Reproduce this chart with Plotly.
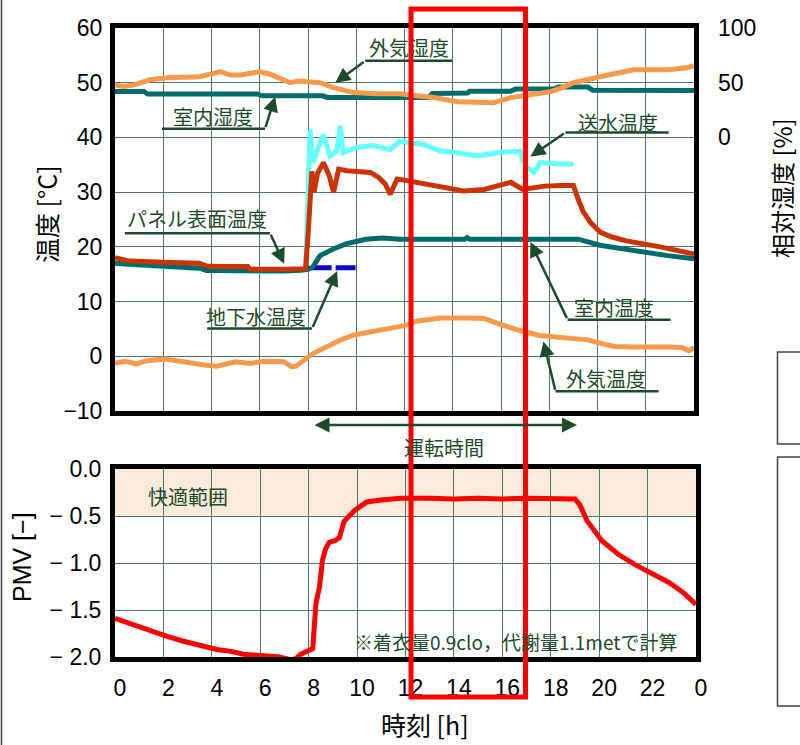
import plotly.graph_objects as go

# ---------------- data ----------------
# outdoor temperature 外気温度 [°C]
OT_h = [0, 0.4, 0.9, 1.3, 2.1, 2.75, 3.7, 4.2, 5.0, 5.6, 6.2, 7.0, 7.3, 7.5, 7.8, 8.2, 8.8, 9.3, 9.9, 10.7,
        11.5, 12.0, 12.5, 13.5, 14.5, 15.3, 16.0, 16.7, 17.6, 18.6, 19.6, 20.2, 20.7, 21.5, 22.3, 23.0, 23.5, 23.8, 24.0]
OT = [-1.3, -0.9, -1.4, -0.8, -0.5, -1.0, -1.6, -1.8, -1.0, -1.3, -0.9, -1.0, -1.9, -1.8, -0.7, 0.5, 1.8, 2.9, 3.9, 4.6,
      5.1, 5.6, 6.4, 7.0, 7.0, 6.9, 5.8, 4.8, 3.8, 3.4, 3.0, 2.3, 1.8, 1.7, 1.8, 1.7, 1.6, 1.0, 1.6]

# indoor temperature 室内温度 [°C]
IT_h = [0, 0.5, 1.0, 2.0, 3.5, 3.8, 5.0, 6.3, 7.0, 7.7, 8.0, 8.2, 8.5, 9.05, 9.6, 10.4, 11.1, 11.8, 12.1, 12.2,
        14.5, 14.6, 14.7, 16.6, 16.8, 17.0, 19.2, 20.1, 21.5, 22.9, 24.0]
IT = [17.0, 16.9, 16.6, 16.5, 16.1, 15.7, 15.6, 15.5, 15.6, 15.7, 15.9, 16.3, 18.4, 19.6, 20.6, 21.4, 21.6, 21.4, 21.5, 21.4,
      21.4, 21.7, 21.4, 21.4, 21.6, 21.4, 21.4, 20.3, 19.3, 18.4, 17.8]

# panel surface temperature パネル表面温度 [°C]
PT_h = [0, 0.3, 0.6, 2.0, 3.5, 3.8, 4.2, 5.5, 5.6, 7.0, 7.9, 8.0, 8.08, 8.16, 8.25, 8.4, 8.64, 8.89, 9.06, 9.27,
        9.6, 10.0, 10.58, 10.93, 11.2, 11.41, 11.69, 12.1, 12.8, 13.5, 14.45, 15.3, 16.4, 16.9, 17.8, 18.5, 19.0,
        19.2, 19.4, 19.7, 20.1, 20.6, 21.2, 22.6, 24.0]
PT = [18.0, 17.8, 17.4, 17.2, 17.0, 16.5, 16.4, 16.4, 15.9, 15.9, 16.0, 22.0, 30.5, 33.8, 30.0, 33.5, 35.4, 32.9, 30.0, 34.2,
      33.9, 33.8, 33.6, 32.7, 31.5, 29.6, 32.4, 32.1, 31.5, 30.9, 30.2, 30.5, 31.8, 30.5, 31.1, 31.2, 31.2,
      28.7, 26.5, 24.5, 22.7, 21.8, 21.1, 20.0, 18.7]

# supply water temperature 送水温度 [°C]
SW_h = [0, 1.0, 3.5, 3.8, 6.3, 7.9, 7.97, 8.09, 8.2, 8.4, 8.63, 8.92, 9.2, 9.34, 9.46, 10.04, 10.7, 11.41, 11.8,
        12.78, 13.49, 14.19, 15.02, 15.85, 16.8, 16.93, 17.1, 17.36, 17.63, 18.3, 19.0]
SW = [17.0, 16.6, 16.1, 15.7, 15.5, 15.9, 25.6, 41.5, 35.4, 38.0, 40.5, 36.6, 37.6, 42.1, 37.2, 38.2, 38.5, 37.8, 39.3,
      38.7, 37.5, 37.2, 36.6, 37.2, 37.5, 35.4, 34.5, 33.6, 35.4, 35.2, 35.1]

# ground water temperature 地下水温度 [°C]
GW_h = [8.15, 10.0]
GW = [16.2, 16.2]

# outdoor relative humidity 外気湿度 [%]
OH_h = [0, 0.35, 0.8, 1.45, 2.15, 3.0, 3.5, 4.35, 4.8, 5.2, 5.6, 6.0, 6.4, 6.7, 7.26, 7.6, 7.95, 8.5, 9.05, 9.9,
        10.8, 11.8, 12.5, 13.2, 14.2, 15.0, 15.7, 16.4, 17.1, 18.05, 18.6, 19.0, 20.1, 21.5, 22.9, 23.7, 24.0]
OH = [48, 46.5, 48, 52.7, 54.5, 55, 55.5, 60, 57, 57, 58, 60, 58, 55.5, 50, 51.5, 51, 50, 45.5, 41,
      40, 40, 38, 36.4, 32.7, 32, 31.8, 36.4, 39, 41.8, 46, 50, 55.5, 61.8, 61.8, 63.6, 65.5]

# indoor relative humidity 室内湿度 [%]
IH_h = [0, 1.2, 1.35, 5.9, 6.1, 8.6, 8.8, 13.0, 13.15, 14.6, 14.7, 16.4, 16.6, 18.2, 18.4, 19.6, 19.8, 23.0, 23.2, 23.5, 24.0]
IH = [42, 42, 39.7, 39.7, 38, 38, 36.5, 36.5, 40.2, 40.6, 42.1, 42.1, 44.3, 44.5, 46.1, 46.1, 43.0, 43.0, 42.2, 43.0, 42.8]

# PMV [-]
PMV_h = [0, 0.75, 1.5, 2.15, 2.8, 3.5, 4.2, 4.8, 5.3, 6.3, 6.8, 7.26, 7.45, 7.68, 8.0, 8.17, 8.3, 8.45, 8.57, 8.7,
         8.85, 9.1, 9.27, 9.46, 9.9, 10.4, 11.0, 11.8, 13, 14, 15, 16, 17, 18, 19.0, 19.2, 19.4, 19.5, 20.1, 20.8,
         21.5, 22.2, 22.9, 23.5, 24.0]
PMV = [-1.59, -1.66, -1.72, -1.78, -1.83, -1.87, -1.92, -1.94, -1.97, -1.99, -2.0, -2.03, -2.02, -1.97, -1.93, -1.91,
       -1.43, -1.25, -0.97, -0.85, -0.78, -0.76, -0.73, -0.56, -0.44, -0.35, -0.33, -0.31, -0.31, -0.32, -0.31, -0.32,
       -0.31, -0.32, -0.32, -0.38, -0.51, -0.55, -0.76, -0.91, -1.02, -1.11, -1.21, -1.32, -1.44]

# axes ticks
HOUR_TICKS = list(range(0, 25, 2))
HOUR_LABELS = ["0", "2", "4", "6", "8", "10", "12", "14", "16", "18", "20", "22", "0"]
TEMP_TICKS = [-10, 0, 10, 20, 30, 40, 50, 60]
TEMP_LABELS = ["\u221210", "0", "10", "20", "30", "40", "50", "60"]
RH_TICKS = [0, 50, 100]
RH_LABELS = ["0", "50", "100"]
PMV_TICKS = [-2.0, -1.5, -1.0, -0.5, 0.0]
PMV_LABELS = ["\u2212 2.0", "\u2212 1.5", "\u2212 1.0", "\u2212 0.5", "0.0"]
COMFORT = [-0.5, 0.0]

# ---------------- styles ----------------
W, H = 800, 745
ORANGE = "#F79A4B"
TEAL = "#006B6B"
PANEL = "#CC3300"
CYAN = "#66FFFF"
BLUE = "#0A0AC8"
RED = "#FF0000"
GREEN = "#1D4B2C"
GRID = "#4E7A60"
NUMFONT = "Liberation Sans, Arial, Noto Sans CJK JP"
JPFONT = "Noto Sans CJK JP, Liberation Sans"


def px(x):
    return x / W


def py(y):
    return 1 - y / H


fig = go.Figure()
lw = 5
fig.add_trace(go.Scatter(x=SW_h, y=SW, mode="lines", line=dict(color=CYAN, width=lw), xaxis="x", yaxis="y"))
fig.add_trace(go.Scatter(x=GW_h, y=GW, mode="lines", line=dict(color=BLUE, width=lw, dash="20px,4px"), xaxis="x", yaxis="y"))
fig.add_trace(go.Scatter(x=IT_h, y=IT, mode="lines", line=dict(color=TEAL, width=lw), xaxis="x", yaxis="y"))
fig.add_trace(go.Scatter(x=PT_h, y=PT, mode="lines", line=dict(color=PANEL, width=lw), xaxis="x", yaxis="y"))
fig.add_trace(go.Scatter(x=OT_h, y=OT, mode="lines", line=dict(color=ORANGE, width=lw), xaxis="x", yaxis="y"))
fig.add_trace(go.Scatter(x=IH_h, y=IH, mode="lines", line=dict(color=TEAL, width=lw), xaxis="x", yaxis="y3"))
fig.add_trace(go.Scatter(x=OH_h, y=OH, mode="lines", line=dict(color=ORANGE, width=lw), xaxis="x", yaxis="y3"))
fig.add_trace(go.Scatter(x=PMV_h, y=PMV, mode="lines", line=dict(color=RED, width=lw), xaxis="x2", yaxis="y2"))

XDOM = [px(115), px(694)]
common_axis = dict(showline=True, linecolor="black", linewidth=5, mirror=True, zeroline=False, automargin=False,
                   showgrid=True, gridcolor=GRID, gridwidth=1.3, ticks="")
TICKFONT = dict(family=NUMFONT, size=23, color="black")

fig.update_layout(
    width=W, height=H, margin=dict(l=0, r=0, t=0, b=0, autoexpand=False),
    paper_bgcolor="white", plot_bgcolor="white", showlegend=False,
    xaxis=dict(domain=XDOM, range=[0, 24], tickvals=HOUR_TICKS, showticklabels=False, anchor="y", **common_axis),
    yaxis=dict(domain=[py(411), py(28)], range=[-10, 60], tickvals=TEMP_TICKS, ticktext=TEMP_LABELS,
               tickfont=TICKFONT, ticklabelstandoff=3, anchor="x", **common_axis),
    yaxis3=dict(overlaying="y", side="right", anchor="x", range=[-250, 100], tickvals=RH_TICKS, ticktext=RH_LABELS,
                showgrid=False, zeroline=False, showline=False, ticks="", automargin=False,
                tickfont=TICKFONT, ticklabelstandoff=23),
    xaxis2=dict(domain=[px(115), px(696)], range=[0, 24], tickvals=HOUR_TICKS, ticktext=HOUR_LABELS,
                tickfont=TICKFONT, ticklabelstandoff=6, ticklabelshift=5,
                anchor="y2", **common_axis),
    yaxis2=dict(domain=[py(657), py(469)], range=[-2, 0], tickvals=PMV_TICKS, ticktext=PMV_LABELS,
                tickfont=TICKFONT, ticklabelstandoff=4, anchor="x2", **common_axis),
)

shapes = []
# comfort range band
shapes.append(dict(type="rect", xref="x2 domain", yref="y2", x0=0, x1=1, y0=COMFORT[0], y1=COMFORT[1],
                   fillcolor="#FCEADC", line=dict(width=0), layer="below"))

annotations = []
LABELFONT = dict(family=JPFONT, size=20, color=GREEN)


def callout(text, tx, ty, ux0, ux1, uy, hx, hy, tail_at_left=True):
    annotations.append(dict(x=tx, y=ty, xref="x", yref="y", text=text, showarrow=False, font=LABELFONT,
                            xanchor="center", yanchor="middle"))
    shapes.append(dict(type="line", xref="x", yref="y", x0=ux0, x1=ux1, y0=uy, y1=uy,
                       line=dict(color=GREEN, width=2.5)))
    tailx = ux0 if tail_at_left else ux1
    annotations.append(dict(x=hx, y=hy, xref="x", yref="y", ax=tailx, ay=uy, axref="x", ayref="y",
                            text="", showarrow=True, arrowhead=2, arrowsize=1.2, arrowwidth=2.5,
                            arrowcolor=GREEN, standoff=0))


callout("外気湿度", 12.2, 56.4, 10.37, 13.98, 54.0, 9.13, 50.0, True)
callout("室内湿度", 4.07, 43.8, 1.95, 6.22, 41.6, 6.64, 47.45, False)
callout("送水温度", 20.83, 42.7, 18.67, 22.95, 40.9, 17.22, 36.5, True)
callout("パネル表面温度", 3.4, 25.1, 0.41, 6.43, 22.5, 7.01, 16.9, False)
callout("地下水温度", 5.85, 7.3, 3.82, 8.17, 5.1, 9.21, 15.6, False)
callout("室内温度", 20.7, 8.9, 18.76, 23.03, 6.7, 17.22, 20.9, True)
callout("外気温度", 20.37, -4.0, 18.26, 22.53, -6.4, 17.76, 2.7, True)


def paper_text(text, x, y, font, angle=0, xanchor="center"):
    annotations.append(dict(x=px(x), y=py(y), xref="paper", yref="paper", text=text, textangle=angle,
                            showarrow=False, font=font, xanchor=xanchor, yanchor="middle"))


# operating time arrow
annotations.append(dict(x=px(577), y=py(425), xref="paper", yref="paper", ax=-264, ay=0,
                        text="", showarrow=True, arrowhead=2, arrowside="end+start", arrowsize=1.2,
                        arrowwidth=2.5, arrowcolor=GREEN, standoff=0))
paper_text("運転時間", 444, 447, LABELFONT)

# texts in PMV chart
paper_text("快適範囲", 188, 496, LABELFONT)
paper_text("※着衣量0.9clo，代謝量1.1metで計算", 679, 641, dict(family=JPFONT, size=19, color=GREEN), xanchor="right")

# axis titles
TITLEFONT = dict(family=JPFONT, size=25, color="black")
paper_text("温度 [°C]", 46, 214, TITLEFONT, angle=-90)
paper_text("相対湿度 [%]", 781, 188, dict(family=JPFONT, size=24, color="black"), angle=-90)
paper_text("PMV [\u2212]", 22, 557, dict(family=NUMFONT, size=25, color="black"), angle=-90)
paper_text("時刻 [h]", 425, 724, TITLEFONT)

# frame decorations
shapes.append(dict(type="line", xref="paper", yref="paper", x0=px(1.5), x1=px(1.5), y0=0, y1=1,
                   line=dict(color="#444444", width=1.5)))
shapes.append(dict(type="rect", xref="paper", yref="paper", x0=px(777.5), x1=px(810), y0=py(444), y1=py(352),
                   line=dict(color="#444444", width=1.5)))
shapes.append(dict(type="rect", xref="paper", yref="paper", x0=px(777.5), x1=px(810), y0=py(706), y1=py(457),
                   line=dict(color="#444444", width=1.5)))
# red highlight box
shapes.append(dict(type="rect", xref="paper", yref="paper", x0=px(411), x1=px(525.5), y0=py(697), y1=py(9),
                   line=dict(color=RED, width=5), layer="above"))

fig.update_layout(shapes=shapes, annotations=annotations)
fig.write_html("out.html", config={"displayModeBar": False},
               post_script="document.body.style.margin='0px';document.body.style.overflow='hidden';")
